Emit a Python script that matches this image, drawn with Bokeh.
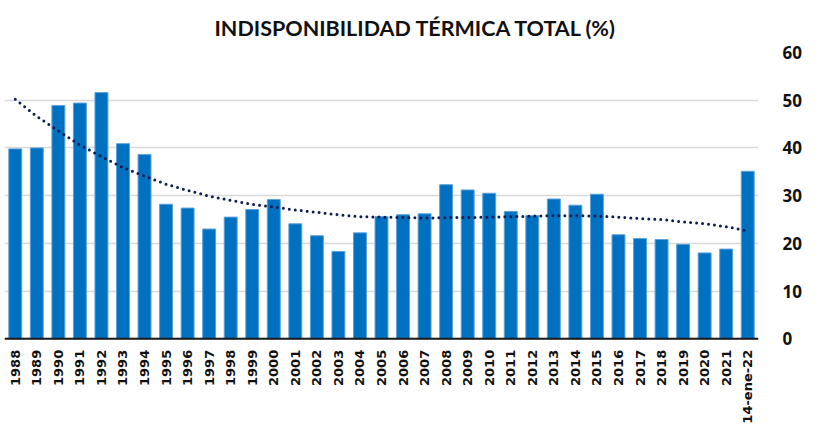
from math import pi
from bokeh.plotting import figure
from bokeh.models import FactorRange, Range1d, FixedTicker, Span
from bokeh.core.properties import value
from bokeh.embed import file_html
from bokeh.resources import INLINE

categories = ["1988", "1989", "1990", "1991", "1992", "1993", "1994", "1995", "1996", "1997",
              "1998", "1999", "2000", "2001", "2002", "2003", "2004", "2005", "2006", "2007",
              "2008", "2009", "2010", "2011", "2012", "2013", "2014", "2015", "2016", "2017",
              "2018", "2019", "2020", "2021", "14-ene-22"]
values = [39.8, 40.0, 48.9, 49.4, 51.6, 40.9, 38.6, 28.2, 27.4, 23.0,
          25.5, 27.1, 29.2, 24.1, 21.6, 18.3, 22.2, 25.6, 26.0, 26.2,
          32.3, 31.2, 30.5, 26.7, 25.8, 29.3, 28.0, 30.3, 21.8, 21.0,
          20.8, 19.8, 18.0, 18.8, 35.1]
trend = [50.2, 46.6, 43.6, 40.6, 38.2, 35.9, 34.1, 32.4, 31.1, 29.9,
         29.0, 28.2, 27.6, 27.0, 26.5, 26.0, 25.6, 25.5, 25.4, 25.3,
         25.4, 25.4, 25.5, 25.6, 25.7, 25.8, 25.8, 25.7, 25.5, 25.2,
         25.0, 24.5, 24.1, 23.5, 22.6]
y_ticks = [0, 10, 20, 30, 40, 50, 60]
title_text = "INDISPONIBILIDAD TÉRMICA TOTAL (%)"

# the frame reaches the bottom of the figure, so the category labels are
# drawn below the zero line
p = figure(x_range=FactorRange(factors=categories, range_padding=0),
           y_range=Range1d(-17.96, 60), width=804, height=424,
           y_axis_location="right", output_backend="svg", toolbar_location=None,
           min_border_left=4, min_border_right=33, min_border_top=50,
           min_border_bottom=0, title=title_text)

p.vbar(x=categories, top=values, bottom=0, width=0.6, fill_color="#0070C0",
       line_color="#5AA2DC", line_width=1)
p.line(x=categories, y=trend, line_color="#0E1E50", line_width=3,
       line_dash="0 6", line_cap="round")

p.add_layout(Span(location=0, dimension="width", line_color="#1a1a1a", line_width=2))

p.text(x=categories, y=0, text=categories, angle=pi / 2, text_align="right",
       text_baseline="middle", y_offset=11, text_font=value("DejaVu Sans"),
       text_font_style="bold", text_font_size="13px", text_color="#111111")

p.title.text_font = "Lato"
p.title.text_font_style = "bold"
p.title.text_font_size = "21.5px"
p.title.align = "left"
p.title.offset = 210
p.title.standoff = 24
p.title.text_color = "#111111"

p.outline_line_color = None
p.xaxis.visible = False
p.xgrid.visible = False
p.ygrid.grid_line_color = "#d9d9d9"
p.ygrid.grid_line_width = 1.6

p.yaxis.ticker = FixedTicker(ticks=y_ticks)
p.yaxis.axis_line_color = None
p.yaxis.major_tick_line_color = None
p.yaxis.minor_tick_line_color = None
p.yaxis.major_label_text_font = "Open Sans"
p.yaxis.major_label_text_font_style = "bold"
p.yaxis.major_label_text_font_size = "17px"
p.yaxis.major_label_text_color = "#111111"
p.yaxis.major_label_standoff = 18

open("out.html", "w").write(file_html(p, INLINE))
